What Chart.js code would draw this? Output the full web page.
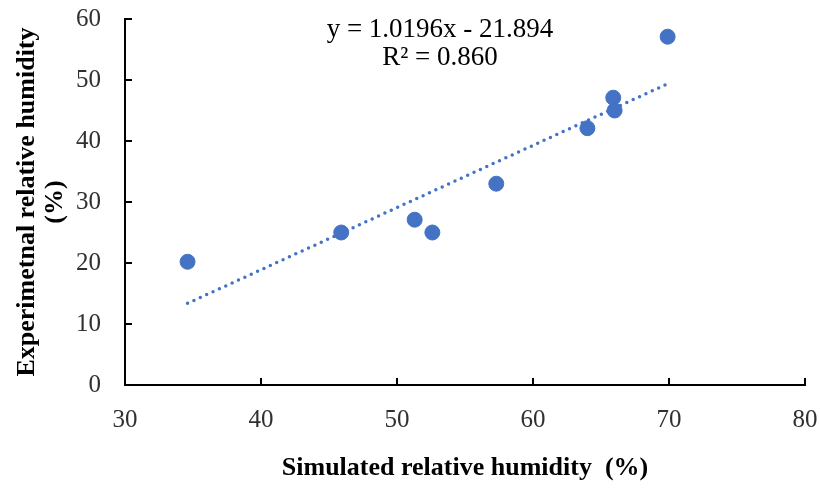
<!DOCTYPE html>
<html>
<head>
<meta charset="utf-8">
<script src="https://cdn.jsdelivr.net/npm/chart.js@4/dist/chart.umd.min.js"></script>
<style>
  html, body { margin: 0; padding: 0; background: #fff; }
  #wrap { position: relative; width: 820px; height: 488px; }
</style>
</head>
<body>
<div id="wrap"><canvas id="chart"></canvas></div>
<script>
// simulated vs experimental relative humidity (%)
const simulated = [34.6, 45.9, 51.3, 52.6, 57.3, 64.0, 65.9, 66.0, 69.9];
const experimental = [20.2, 25.0, 27.1, 25.0, 33.0, 42.1, 47.1, 45.0, 57.1];

// linear trendline shown on the chart
const slope = 1.0196;
const intercept = -21.894;
const rSquared = 0.860;

const xTicks = [30, 40, 50, 60, 70, 80];
const yTicks = [0, 10, 20, 30, 40, 50, 60];

const blue = "#4472C4";
const serif = "'Liberation Serif', 'Times New Roman', serif";

const points = simulated.map((x, i) => ({ x: x, y: experimental[i] }));
const xMin = Math.min(...simulated);
const xMax = Math.max(...simulated);
const trend = [
  { x: xMin, y: slope * xMin + intercept },
  { x: xMax, y: slope * xMax + intercept },
];

// small tick marks pointing into the plot, plus the equation text
const extras = {
  id: "extras",
  afterDraw(chart) {
    const ctx = chart.ctx;
    const xs = chart.scales.x;
    const ys = chart.scales.y;
    ctx.save();
    ctx.strokeStyle = "#000";
    ctx.lineWidth = 2;
    ctx.beginPath();
    xs.ticks.forEach((t) => {
      const px = xs.getPixelForValue(t.value);
      ctx.moveTo(px, ys.bottom);
      ctx.lineTo(px, ys.bottom - 7);
    });
    ys.ticks.forEach((t) => {
      const py = ys.getPixelForValue(t.value);
      ctx.moveTo(xs.left, py);
      ctx.lineTo(xs.left + 7, py);
    });
    ctx.stroke();

    ctx.fillStyle = "#000";
    ctx.font = "27px " + serif;
    ctx.textAlign = "center";
    ctx.textBaseline = "middle";
    const cx = chart.chartArea.left + 315;
    ctx.fillText("y = " + slope.toFixed(4) + "x - " + Math.abs(intercept).toFixed(3), cx, 30);
    ctx.fillText("R\u00B2 = " + rSquared.toFixed(3), cx, 58);
    ctx.restore();
  },
};

const ctx = document.getElementById("chart").getContext("2d");
new Chart(ctx, {
  type: "scatter",
  data: {
    datasets: [
      {
        label: "Measured",
        data: points,
        backgroundColor: blue,
        borderColor: blue,
        pointRadius: 7.5,
        pointHoverRadius: 7.5,
        order: 1,
      },
      {
        label: "Linear",
        type: "line",
        data: trend,
        showLine: true,
        borderColor: blue,
        borderWidth: 3.5,
        borderDash: [0, 7],
        borderCapStyle: "round",
        pointRadius: 0,
        fill: false,
        order: 2,
      },
    ],
  },
  options: {
    responsive: true,
    maintainAspectRatio: false,
    animation: false,
    layout: { padding: { top: 19, right: 15, left: 0, bottom: 0 } },
    plugins: {
      legend: { display: false },
      tooltip: { enabled: false },
    },
    scales: {
      x: {
        type: "linear",
        min: 30,
        max: 80,
        afterBuildTicks: (s) => { s.ticks = xTicks.map((v) => ({ value: v })); },
        afterFit: (s) => {
          s.height = 103;
          s.paddingLeft = 0;
          s.paddingRight = 0;
        },
        grid: { display: false },
        border: { display: true, color: "#000", width: 2 },
        ticks: {
          padding: 12,
          color: "#303030",
          font: { family: serif, size: 25 },
        },
        title: {
          display: true,
          text: "Simulated relative humidity  (%)",
          color: "#000",
          padding: { top: 0, bottom: 4 },
          font: { family: serif, size: 26, weight: "bold" },
        },
      },
      y: {
        type: "linear",
        min: 0,
        max: 60,
        afterBuildTicks: (s) => { s.ticks = yTicks.map((v) => ({ value: v })); },
        afterFit: (s) => {
          s.width = 125;
          s.paddingTop = 0;
          s.paddingBottom = 0;
        },
        grid: { display: false },
        border: { display: true, color: "#000", width: 2 },
        ticks: {
          padding: 16,
          color: "#303030",
          font: { family: serif, size: 25 },
        },
        title: {
          display: true,
          text: ["Experimetnal relative humidity", "(%)"],
          color: "#000",
          padding: { top: 14, bottom: 0 },
          font: { family: serif, size: 26, weight: "bold", lineHeight: 1.05 },
        },
      },
    },
  },
  plugins: [extras],
});
</script>
</body>
</html>
